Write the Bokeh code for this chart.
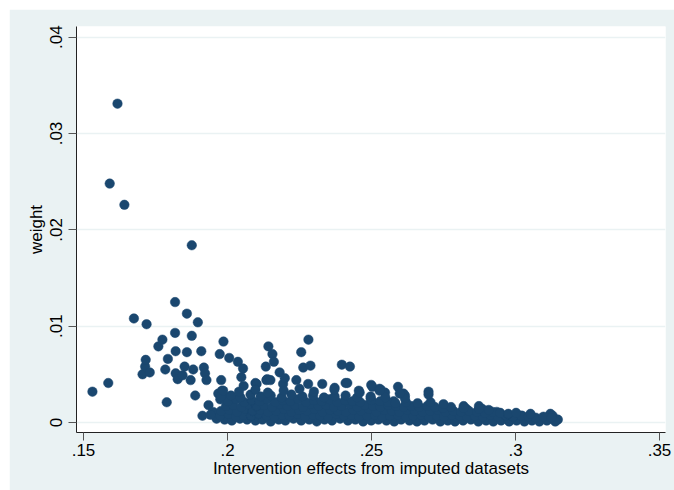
from bokeh.plotting import figure
from bokeh.models import Range1d, FixedTicker
from bokeh.embed import file_html
from bokeh.resources import INLINE

# Scattered points (intervention effect, weight)
effect_out = [
    .1531, .1586, .1591, .1618, .1642, .1675, .1705, .1714, .1716, .1719,
    .1730, .1760, .1774, .1784, .1789, .1793, .1818, .1818, .1820, .1820,
    .1827, .1844, .1851, .1859, .1859, .1872, .1876, .1876, .1881, .1888,
    .1897, .1909, .1913, .1918, .1922, .1927, .1934, .1950, .1973, .1978,
    .1985, .1986, .2006, .2036, .2048, .2054, .2056, .2059, .2097, .2101,
    .2101, .2133, .2135, .2138, .2142, .2149, .2156, .2161, .2181, .2193,
    .2199, .2239, .2256, .2263, .2280, .2281, .2288, .2329, .2372, .2397,
    .2410, .2425, .2416, .2456, .2497, .2499, .2503, .2528, .2532, .2547,
    .2577, .2592, .2611, .2616, .2698, .2820, .2830, .2873, .2885, .2907,
    .2935, .3023, .3121, .3129, .3147, .3127, .1968, .1975, .1990, .1981]
weight_out = [
    .0032, .0041, .0248, .0331, .0226, .0108, .0050, .0058, .0065, .0102,
    .0052, .0079, .0086, .0055, .0021, .0066, .0125, .0093, .0074, .0051,
    .0045, .0049, .0058, .0113, .0073, .0044, .0184, .0090, .0055, .0028,
    .0104, .0074, .0007, .0057, .0051, .0044, .0018, .0011, .0071, .0044,
    .0009, .0084, .0067, .0063, .0047, .0056, .0038, .0007, .0041, .0040,
    .0004, .0058, .0044, .0045, .0079, .0044, .0071, .0063, .0052, .0040,
    .0046, .0044, .0073, .0057, .0040, .0086, .0059, .0040, .0036, .0060,
    .0041, .0058, .0041, .0033, .0025, .0039, .0037, .0035, .0034, .0031,
    .0022, .0037, .0030, .0028, .0032, .0017, .0014, .0017, .0014, .0012,
    .0011, .0007, .0009, .0007, .0003, .0004, .0030, .0024, .0027, .0033]

# Dense band of low-weight points, read row by row
effect_a = [.1962, .1990, .2015, .2043, .2068, .2097, .2121, .2150, .2178, .2201,
            .2229, .2256, .2284, .2310, .2337, .2363, .2391, .2418, .2444, .2471,
            .2499, .2524, .2552, .2579, .2603, .2632, .2658, .2684, .2712, .2739,
            .2765, .2790, .2818, .2845, .2871, .2898, .2923, .2950, .2978, .3004,
            .3031, .3057, .3083, .3109, .3138]
weight_a = [.0004, .0003, .0002, .0004, .0003, .0002, .0003, .0001, .0003, .0002,
            .0004, .0002, .0003, .0001, .0003, .0002, .0004, .0002, .0003, .0001,
            .0002, .0003, .0002, .0001, .0003, .0002, .0001, .0002, .0003, .0001,
            .0002, .0001, .0002, .0003, .0001, .0002, .0001, .0002, .0001, .0002,
            .0001, .0002, .0001, .0002, .0001]
effect_b = [.1941, .1975, .2003, .2029, .2055, .2082, .2108, .2136, .2163, .2190,
            .2215, .2243, .2269, .2297, .2322, .2350, .2377, .2404, .2430, .2457,
            .2485, .2512, .2538, .2564, .2591, .2619, .2645, .2671, .2699, .2726,
            .2752, .2779, .2806, .2832, .2858, .2886, .2912, .2939, .2966, .2992,
            .3019, .3045, .3070, .3097, .3125]
weight_b = [.0008, .0007, .0009, .0006, .0008, .0007, .0009, .0007, .0006, .0008,
            .0007, .0009, .0006, .0008, .0007, .0006, .0009, .0007, .0008, .0006,
            .0007, .0008, .0006, .0007, .0008, .0006, .0007, .0008, .0006, .0007,
            .0006, .0008, .0007, .0006, .0007, .0006, .0008, .0006, .0007, .0006,
            .0007, .0006, .0005, .0006, .0005]
effect_c = [.1978, .2006, .2033, .2061, .2087, .2113, .2141, .2169, .2195, .2222,
            .2248, .2276, .2302, .2330, .2356, .2383, .2411, .2437, .2463, .2490,
            .2517, .2544, .2570, .2597, .2624, .2650, .2677, .2704, .2730, .2757,
            .2784, .2811, .2838, .2866, .2893, .2920, .2947, .2975, .3002, .3052]
weight_c = [.0012, .0013, .0011, .0014, .0012, .0013, .0011, .0012, .0014, .0011,
            .0013, .0012, .0014, .0011, .0013, .0012, .0011, .0013, .0012, .0014,
            .0011, .0013, .0012, .0011, .0013, .0012, .0011, .0012, .0013, .0011,
            .0012, .0011, .0012, .0011, .0010, .0011, .0010, .0009, .0010, .0009]
effect_d = [.1995, .2020, .2048, .2074, .2101, .2127, .2155, .2182, .2208, .2235,
            .2262, .2289, .2316, .2343, .2369, .2396, .2424, .2451, .2477, .2505,
            .2531, .2558, .2585, .2612, .2638, .2666, .2693, .2720, .2748, .2776,
            .2820, .2873, .2907]
weight_d = [.0017, .0018, .0016, .0019, .0017, .0018, .0016, .0019, .0017, .0018,
            .0016, .0019, .0017, .0018, .0016, .0017, .0019, .0016, .0018, .0017,
            .0016, .0018, .0017, .0016, .0017, .0016, .0017, .0016, .0015, .0016,
            .0015, .0014, .0013]
effect_e = [.2002, .2030, .2058, .2085, .2112, .2138, .2166, .2192, .2219, .2246,
            .2273, .2300, .2327, .2354, .2381, .2408, .2434, .2461, .2500, .2530,
            .2557, .2583, .2620, .2660, .2705, .2750]
weight_e = [.0022, .0024, .0021, .0023, .0022, .0024, .0021, .0023, .0022, .0024,
            .0021, .0023, .0022, .0024, .0021, .0023, .0022, .0021, .0023, .0022,
            .0021, .0020, .0021, .0020, .0021, .0019]
effect_f = [.1978, .2012, .2045, .2080, .2115, .2150, .2188, .2222, .2260, .2297,
            .2335, .2372, .2410, .2450, .2497, .2548, .2616]
weight_f = [.0027, .0028, .0026, .0029, .0027, .0028, .0026, .0029, .0027, .0028,
            .0026, .0027, .0028, .0026, .0027, .0026, .0025]
effect_g = [.1985, .2040, .2097, .2140, .2195, .2250, .2300, .2371, .2459, .2528,
            .2598, .2698]
weight_g = [.0033, .0032, .0034, .0031, .0033, .0035, .0032, .0034, .0031, .0033,
            .0030, .0029]

x_ticks = [.15, .2, .25, .3, .35]
x_tick_labels = [".15", ".2", ".25", ".3", ".35"]
y_ticks = [0, .01, .02, .03, .04]
y_tick_labels = ["0", ".01", ".02", ".03", ".04"]

effect = effect_out + effect_a + effect_b + effect_c + effect_d + effect_e + effect_f + effect_g
weight = weight_out + weight_a + weight_b + weight_c + weight_d + weight_e + weight_f + weight_g
assert len(effect) == len(weight)

BG = "#EAF2F3"
NAVY = "#1A476F"
FONT = "Liberation Sans"

p = figure(width=665, height=481, output_backend="svg", toolbar_location=None,
           x_range=Range1d(0.14757, 0.35208), y_range=Range1d(-0.00104, 0.04111),
           min_border_left=67, min_border_right=9, min_border_top=17, min_border_bottom=58)
p.margin = (9, 0, 0, 9)
p.background_fill_color = "white"
p.border_fill_color = BG
p.outline_line_color = None

p.scatter(effect, weight, size=9.5, fill_color=NAVY, line_color=NAVY, line_width=0.5)

p.xaxis.ticker = FixedTicker(ticks=x_ticks)
p.xaxis.major_label_overrides = {t: l for t, l in zip(x_ticks, x_tick_labels)}
p.yaxis.ticker = FixedTicker(ticks=y_ticks)
p.yaxis.major_label_overrides = {t: l for t, l in zip(y_ticks, y_tick_labels)}
p.yaxis.major_label_orientation = "vertical"

p.xaxis.axis_label = "Intervention effects from imputed datasets"
p.yaxis.axis_label = "weight"

for ax in (p.xaxis, p.yaxis):
    ax.axis_line_color = "#222222"
    ax.axis_line_width = 1
    ax.major_tick_line_color = "#555555"
    ax.major_tick_out = 8
    ax.major_tick_in = 0
    ax.minor_tick_line_color = None
    ax.major_label_text_font = FONT
    ax.major_label_text_font_size = "17px"
    ax.major_label_text_color = "black"
    ax.axis_label_text_font = FONT
    ax.axis_label_text_font_size = "17px"
    ax.axis_label_text_font_style = "normal"
    ax.axis_label_text_color = "black"

p.xaxis.major_label_standoff = 3
p.xaxis.axis_label_standoff = 0
p.yaxis.major_label_standoff = 6
p.yaxis.axis_label_standoff = 2

p.xgrid.grid_line_color = None
p.ygrid.ticker = FixedTicker(ticks=y_ticks)
p.ygrid.grid_line_color = BG
p.ygrid.grid_line_width = 1.5

open("out.html", "w").write(file_html(p, INLINE))
